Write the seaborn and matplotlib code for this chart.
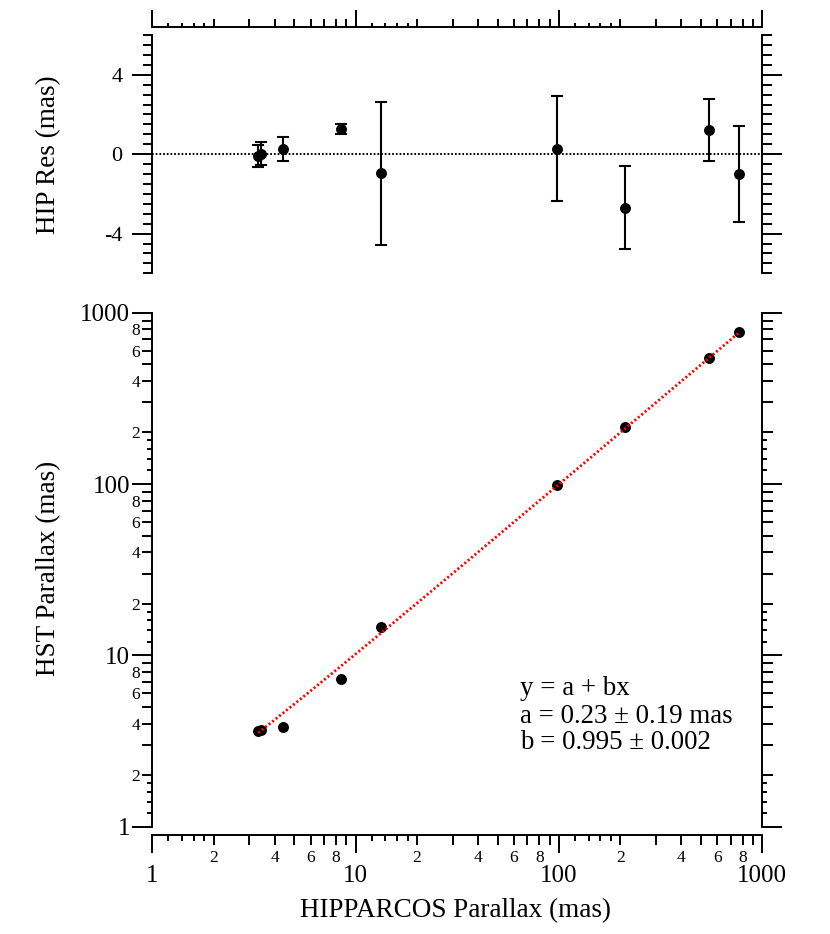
import numpy as np
import pandas as pd
import matplotlib
matplotlib.use("Agg")
import matplotlib.pyplot as plt
import matplotlib.ticker as mticker
import seaborn as sns

# ---------------- data ----------------
hip_parallax = [3.32, 3.43, 4.41, 8.45, 13.4, 98.2, 212.0, 546.0, 766.0]
hst_parallax = [3.63, 3.67, 3.80, 7.28, 14.6, 98.4, 216.0, 547.0, 773.0]
hip_residual = [-0.10, 0.03, 0.28, 1.28, -0.97, 0.28, -2.70, 1.23, -1.00]
hip_res_err = [0.57, 0.60, 0.60, 0.25, 3.60, 2.63, 2.10, 1.57, 2.40]

fit_a = 0.23
fit_b = 0.995
fit_text = ["y = a + bx", "a = 0.23 \u00b1 0.19 mas", "b = 0.995 \u00b1 0.002"]

decades = [1, 10, 100, 1000]
decade_labels = ["1", "10", "100", "1000"]
res_ticks = [-4, 0, 4]
res_tick_labels = ["-4", "0", "4"]

x_label = "HIPPARCOS Parallax (mas)"
y_label_main = "HST Parallax (mas)"
y_label_res = "HIP Res (mas)"

# ---------------- style ----------------
sns.set_style("ticks", rc={
    "axes.edgecolor": "black", "xtick.color": "black", "ytick.color": "black",
    "text.color": "black", "axes.labelcolor": "black",
    "xtick.direction": "out", "ytick.direction": "out",
})
plt.rcParams["font.family"] = ["Liberation Serif", "DejaVu Serif"]
plt.rcParams["axes.unicode_minus"] = False

df = pd.DataFrame({"hip": hip_parallax, "hst": hst_parallax,
                   "res": hip_residual, "err": hip_res_err})

# tick positions on the log axes
mid_ticks = [m * 10 ** e for e in range(3) for m in range(2, 10)]
tiny_ticks = [m * 10 ** e for e in range(3) for m in (1.2, 1.4, 1.6, 1.8)]


def minor_fmt(v, pos):
    e = np.floor(np.log10(v) + 1e-9)
    m = int(round(v / 10 ** e))
    return str(m) if m in (2, 4, 6, 8) else ""


LW = 1.4
PX = 0.72  # points per pixel at 100 dpi

fig = plt.figure(figsize=(8.3, 9.34), dpi=100)
left, width = 0.1835, 0.7349
ax_res = fig.add_axes([left, 0.7074, width, 0.2551])
ax_main = fig.add_axes([left, 0.1149, width, 0.5503])

# ---------------- residual panel ----------------
ax_res.set_xscale("log")
ax_res.axhline(0, color="black", lw=1.4, ls=(0, (0.9, 1.0)), zorder=1)
ax_res.errorbar(df["hip"], df["res"], yerr=df["err"], fmt="none", ecolor="black",
                elinewidth=1.5, capsize=4, capthick=1.5, zorder=2)
sns.scatterplot(data=df, x="hip", y="res", ax=ax_res, color="black", s=62,
                linewidth=0, zorder=3)
ax_res.set_xlim(1, 1000)
ax_res.set_ylim(-6, 6)
ax_res.set_xlabel("")
ax_res.set_ylabel("")

ax_res.set_xticks(decades)
ax_res.set_xticks(mid_ticks, minor=True)
ax_res.xaxis.set_ticks_position("top")
ax_res.tick_params(axis="x", which="both", top=True, bottom=False,
                   labeltop=False, labelbottom=False, width=LW)
ax_res.tick_params(axis="x", which="major", length=17 * PX)
ax_res.tick_params(axis="x", which="minor", length=8 * PX)

ax_res.set_yticks(res_ticks, labels=res_tick_labels)
ax_res.yaxis.set_minor_locator(mticker.MultipleLocator(0.5))
ax_res.tick_params(axis="y", which="both", left=True, right=True, width=LW)
ax_res.tick_params(axis="y", which="major", length=20 * PX, pad=10 * PX, labelsize=16)
ax_res.tick_params(axis="y", which="minor", length=9.5 * PX)

ax_res.spines["bottom"].set_visible(False)
ax_res.spines["top"].set_position(("outward", 8 * PX))
for s in ax_res.spines.values():
    s.set_linewidth(LW)

res_h_px = 0.2551 * 934
sec_top = ax_res.secondary_xaxis(1 + 8 / res_h_px)
sec_top.set_xticks(tiny_ticks)
sec_top.xaxis.set_minor_locator(mticker.NullLocator())
sec_top.tick_params(axis="x", which="major", length=4 * PX, width=LW,
                    labeltop=False, labelbottom=False)
for s in sec_top.spines.values():
    s.set_visible(False)

# ---------------- main panel ----------------
ax_main.set_xscale("log")
ax_main.set_yscale("log")
sns.scatterplot(data=df, x="hip", y="hst", ax=ax_main, color="black", s=62,
                linewidth=0, zorder=3)
x_fit = np.geomspace(min(hip_parallax), max(hip_parallax), 100)
ax_main.plot(x_fit, fit_a + fit_b * x_fit, color="#ff0000", lw=2.0,
             ls=(0, (0.75, 0.85)), zorder=4)
ax_main.set_xlim(1, 1000)
ax_main.set_ylim(1, 1000)
ax_main.set_xlabel("")
ax_main.set_ylabel("")

for axis in (ax_main.xaxis, ax_main.yaxis):
    axis.set_major_locator(mticker.FixedLocator(decades))
    axis.set_major_formatter(mticker.FixedFormatter(decade_labels))
    axis.set_minor_locator(mticker.FixedLocator(mid_ticks))
    axis.set_minor_formatter(mticker.FuncFormatter(minor_fmt))

ax_main.tick_params(axis="x", which="both", bottom=True, top=False, width=LW)
ax_main.tick_params(axis="x", which="major", length=18 * PX, pad=12 * PX, labelsize=18)
ax_main.tick_params(axis="x", which="minor", length=10 * PX, pad=5 * PX, labelsize=12.5)
ax_main.tick_params(axis="y", which="both", left=True, right=True, width=LW)
ax_main.tick_params(axis="y", which="major", length=20 * PX, pad=2 * PX, labelsize=18)
ax_main.tick_params(axis="y", which="minor", length=10.5 * PX, pad=1.7 * PX, labelsize=12.5)

ax_main.spines["top"].set_visible(False)
ax_main.spines["bottom"].set_position(("outward", 8 * PX))
for s in ax_main.spines.values():
    s.set_linewidth(LW)

main_h_px = 0.5503 * 934
sec_bot = ax_main.secondary_xaxis(-8 / main_h_px)
sec_bot.set_xticks(tiny_ticks)
sec_bot.xaxis.set_minor_locator(mticker.NullLocator())
sec_bot.tick_params(axis="x", which="major", length=5.7 * PX, width=LW,
                    labelbottom=False, labeltop=False)
for s in sec_bot.spines.values():
    s.set_visible(False)

for loc in ("left", "right"):
    sec_y = ax_main.secondary_yaxis(loc)
    sec_y.set_yticks(tiny_ticks)
    sec_y.yaxis.set_minor_locator(mticker.NullLocator())
    sec_y.tick_params(axis="y", which="major", length=5 * PX, width=LW,
                      labelleft=False, labelright=False)
    for s in sec_y.spines.values():
        s.set_visible(False)

# fit annotation
for txt, yb in zip(fit_text, (0.256, 0.202, 0.152)):
    ax_main.text(0.603, yb, txt, transform=ax_main.transAxes, fontsize=19.4,
                 ha="left", va="baseline")

# axis labels
fig.text(0.549, 0.0246, x_label, ha="center", va="center", fontsize=19.5)
fig.text(0.058, 0.391, y_label_main, rotation=90, ha="center", va="center", fontsize=19.5)
fig.text(0.058, 0.834, y_label_res, rotation=90, ha="center", va="center", fontsize=19.5)

fig.savefig("out.png", dpi=100)
